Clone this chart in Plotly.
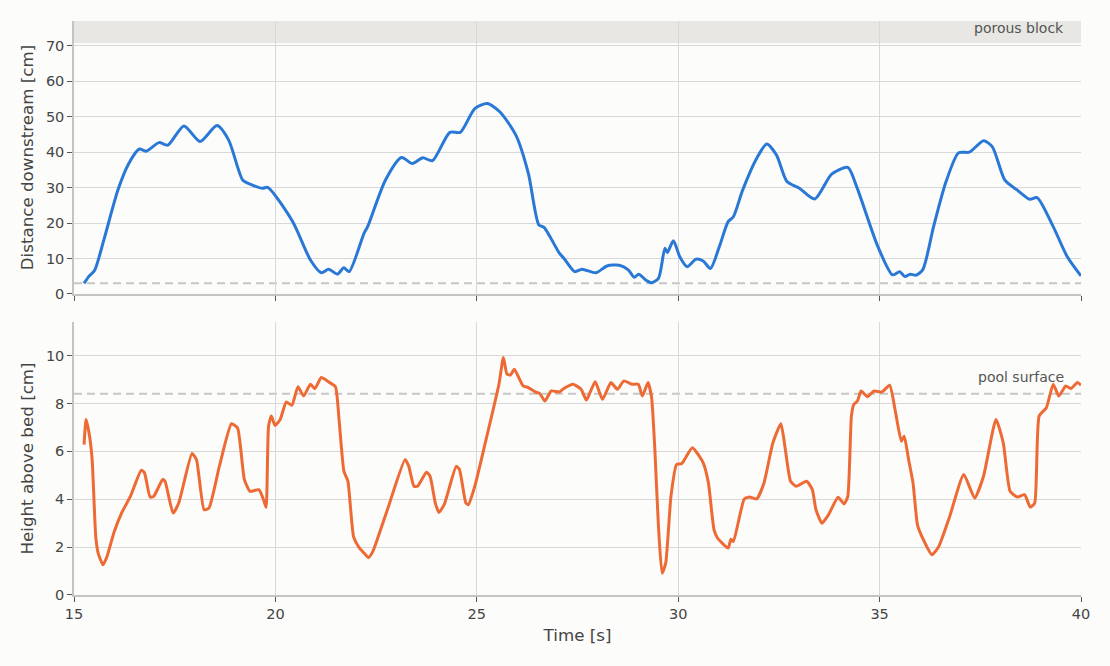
import plotly.graph_objects as go
from plotly.subplots import make_subplots

# Front position (distance downstream) vs time
t_front = [15.25, 15.38, 15.51, 15.74, 16.09, 16.36, 16.62, 16.80, 17.11, 17.33, 17.73, 18.13,
           18.55, 18.84, 19.19, 19.37, 19.68, 19.81, 20.43, 20.87, 21.14, 21.32, 21.54, 21.70,
           21.83, 22.20, 22.29, 22.73, 23.13, 23.40, 23.66, 23.90, 24.33, 24.59, 24.95, 25.26,
           25.57, 25.97, 26.28, 26.54, 26.67, 27.05, 27.16, 27.43, 27.61, 27.96, 28.23, 28.54,
           28.76, 28.91, 29.02, 29.20, 29.33, 29.51, 29.67, 29.73, 29.88, 30.04, 30.22, 30.44,
           30.62, 30.80, 31.02, 31.24, 31.37, 31.60, 31.95, 32.20, 32.44, 32.70, 33.01, 33.39,
           33.81, 34.21, 34.43, 34.96, 35.32, 35.50, 35.63, 35.76, 35.90, 36.07, 36.34, 36.65,
           36.96, 37.23, 37.58, 37.80, 38.11, 38.42, 38.73, 38.91, 39.31, 39.66, 40.00]
distance = [3.0, 5.1, 6.6, 15.2, 29.3, 36.8, 40.9, 40.3, 42.7, 42.0, 47.4, 43.0,
            47.5, 43.4, 32.1, 31.0, 29.8, 30.1, 20.4, 9.6, 6.0, 7.0, 5.6, 7.4,
            6.3, 17.1, 19.0, 32.1, 38.5, 36.8, 38.4, 37.6, 45.6, 45.6, 52.3, 53.7,
            51.4, 44.8, 34.0, 19.5, 18.8, 11.5, 10.1, 6.3, 7.0, 6.0, 7.9, 8.1,
            6.8, 4.7, 5.6, 3.9, 3.2, 4.4, 12.9, 11.7, 15.0, 10.5, 7.7, 9.8,
            9.3, 7.2, 13.3, 20.4, 21.8, 29.3, 38.3, 42.3, 39.2, 31.7, 29.8, 26.8,
            33.8, 35.7, 30.3, 13.3, 5.4, 6.3, 4.9, 5.6, 5.3, 6.8, 19.0, 31.7,
            39.8, 40.0, 43.2, 41.5, 32.1, 29.3, 26.7, 27.2, 19.0, 10.5, 5.1]

# Flow depth (height above bed) vs time
t_height = [15.25, 15.30, 15.38, 15.45, 15.54, 15.60, 15.72, 15.82, 16.00, 16.18, 16.40, 16.67,
            16.75, 16.89, 16.98, 17.20, 17.26, 17.46, 17.60, 17.93, 18.04, 18.23, 18.35, 18.61,
            18.91, 19.06, 19.23, 19.37, 19.59, 19.72, 19.77, 19.83, 19.90, 19.99, 20.12, 20.27,
            20.41, 20.56, 20.70, 20.87, 20.98, 21.14, 21.32, 21.49, 21.58, 21.70, 21.80, 21.94,
            22.07, 22.20, 22.31, 22.42, 22.78, 23.22, 23.31, 23.44, 23.53, 23.75, 23.84, 23.97,
            24.06, 24.19, 24.49, 24.57, 24.73, 24.79, 24.95, 25.21, 25.55, 25.66, 25.75, 25.84,
            25.93, 26.15, 26.28, 26.45, 26.56, 26.69, 26.85, 27.05, 27.16, 27.39, 27.59, 27.72,
            27.81, 27.94, 28.12, 28.33, 28.49, 28.65, 28.85, 29.01, 29.11, 29.25, 29.34, 29.42,
            29.51, 29.60, 29.69, 29.82, 29.96, 30.09, 30.35, 30.62, 30.75, 30.89, 30.98, 31.24,
            31.31, 31.37, 31.64, 31.77, 31.95, 32.13, 32.35, 32.55, 32.66, 32.79, 32.93, 33.19,
            33.33, 33.42, 33.57, 33.73, 33.97, 34.12, 34.21, 34.30, 34.36, 34.45, 34.54, 34.70,
            34.86, 35.06, 35.25, 35.39, 35.54, 35.61, 35.72, 35.83, 35.94, 36.07, 36.30, 36.47,
            36.74, 37.09, 37.36, 37.58, 37.89, 38.07, 38.24, 38.42, 38.60, 38.74, 38.85, 38.96,
            39.14, 39.31, 39.45, 39.62, 39.75, 39.91, 40.00]
height = [6.28, 7.33, 6.70, 5.66, 2.44, 1.75, 1.26, 1.61, 2.65, 3.42, 4.12, 5.21,
          5.10, 4.09, 4.12, 4.82, 4.75, 3.42, 3.84, 5.91, 5.66, 3.56, 3.63, 5.38,
          7.15, 6.98, 4.82, 4.33, 4.40, 3.91, 3.66, 7.05, 7.47, 7.08, 7.33, 8.06,
          7.92, 8.70, 8.31, 8.80, 8.62, 9.08, 8.90, 8.70, 7.33, 5.17, 4.75, 2.44,
          2.00, 1.75, 1.56, 1.82, 3.56, 5.66, 5.38, 4.54, 4.54, 5.13, 4.96, 3.84,
          3.45, 3.77, 5.38, 5.24, 3.84, 3.77, 4.54, 6.35, 8.80, 9.92, 9.22, 9.19,
          9.43, 8.73, 8.66, 8.48, 8.42, 8.10, 8.52, 8.48, 8.62, 8.80, 8.59, 8.14,
          8.45, 8.91, 8.17, 8.87, 8.59, 8.94, 8.80, 8.80, 8.31, 8.87, 8.24, 6.08,
          2.86, 0.91, 1.33, 4.12, 5.45, 5.49, 6.15, 5.52, 4.68, 2.72, 2.37, 1.96,
          2.33, 2.23, 4.01, 4.09, 4.01, 4.68, 6.35, 7.15, 6.08, 4.75, 4.54, 4.75,
          4.40, 3.56, 3.00, 3.35, 4.08, 3.80, 4.12, 7.47, 7.96, 8.10, 8.52, 8.28,
          8.52, 8.48, 8.76, 7.68, 6.42, 6.63, 5.66, 4.68, 2.93, 2.37, 1.68, 2.03,
          3.28, 5.03, 4.05, 4.96, 7.33, 6.35, 4.33, 4.09, 4.19, 3.67, 3.84, 7.47,
          7.82, 8.80, 8.31, 8.73, 8.62, 8.87, 8.76]

block_start = 70.8
pool_surface = 8.4
front_baseline = 3.0
x_ticks = [15, 20, 25, 30, 35, 40]

BG = "#fcfcfa"
GRID = "#d8d8d8"
TXT = "#444444"
FONT = "DejaVu Sans"

fig = make_subplots(rows=2, cols=1, shared_xaxes=False, vertical_spacing=0.0488)

fig.add_trace(go.Scatter(x=t_front, y=distance, mode="lines",
                         line=dict(color="#2a78d6", width=3, shape="spline", smoothing=0.7),
                         showlegend=False), row=1, col=1)
fig.add_trace(go.Scatter(x=t_height, y=height, mode="lines",
                         line=dict(color="#ee6a35", width=3, shape="spline", smoothing=0.5),
                         showlegend=False), row=2, col=1)

# porous block band
fig.add_shape(type="rect", xref="x domain", yref="y", x0=0, x1=1, y0=block_start, y1=77,
              fillcolor="#e8e7e3", line=dict(width=0), layer="below")
fig.add_annotation(xref="x domain", yref="y", x=0.985, y=77, text="porous block",
                   showarrow=False, xanchor="right", yanchor="top", yshift=3,
                   font=dict(family=FONT, size=14, color="#555555"))
# dashed reference lines
fig.add_shape(type="line", xref="x domain", yref="y", x0=0, x1=1, y0=front_baseline, y1=front_baseline,
              line=dict(color="#c6c6c6", width=2, dash="8px,5px"), layer="below")
fig.add_shape(type="line", xref="x2 domain", yref="y2", x0=0, x1=1, y0=pool_surface, y1=pool_surface,
              line=dict(color="#c6c6c6", width=2, dash="8px,5px"), layer="below")
fig.add_annotation(xref="x2 domain", yref="y2", x=0.985, y=pool_surface, text="pool surface",
                   showarrow=False, xanchor="right", yanchor="bottom", yshift=7,
                   font=dict(family=FONT, size=14, color="#555555"))

axis_common = dict(showgrid=True, gridcolor=GRID, gridwidth=1.2, zeroline=False,
                   showline=True, linecolor="#c4c4c4", linewidth=1.5,
                   ticks="outside", ticklen=5, tickcolor="#555555",
                   tickfont=dict(family=FONT, size=14.5, color=TXT))

fig.update_xaxes(range=[15, 40], tickvals=x_ticks, **axis_common)
fig.update_xaxes(showticklabels=False, row=1, col=1)
fig.update_xaxes(title=dict(text="Time [s]", font=dict(family=FONT, size=16.7, color=TXT), standoff=8),
                 row=2, col=1)
fig.update_yaxes(**axis_common)
fig.update_yaxes(range=[0, 77], tickvals=[0, 10, 20, 30, 40, 50, 60, 70],
                 title=dict(text="Distance downstream [cm]", font=dict(family=FONT, size=16.7, color=TXT),
                            standoff=8), row=1, col=1)
fig.update_yaxes(range=[0, 11.4], tickvals=[0, 2, 4, 6, 8, 10],
                 title=dict(text="Height above bed [cm]", font=dict(family=FONT, size=16.7, color=TXT),
                            standoff=8), row=2, col=1)

fig.update_layout(width=1110, height=666, margin=dict(l=74, r=29, t=21, b=71),
                  paper_bgcolor=BG, plot_bgcolor=BG,
                  font=dict(family=FONT, color=TXT), showlegend=False)

fig.write_html("out.html")
